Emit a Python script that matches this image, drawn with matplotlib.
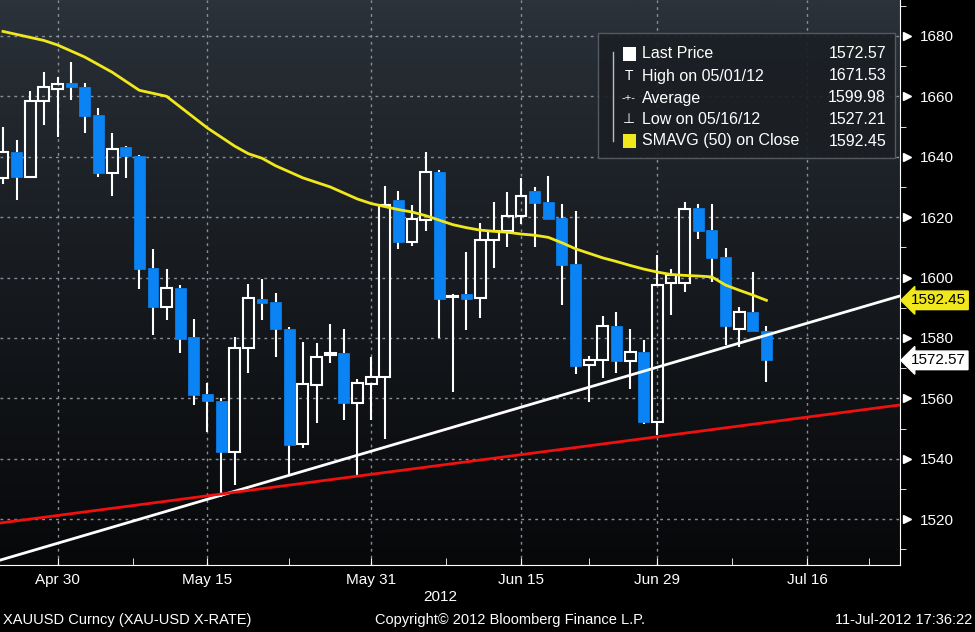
import numpy as np
import matplotlib
matplotlib.use("Agg")
import matplotlib.pyplot as plt
import matplotlib.transforms as mtransforms

# daily candles Apr 24 - Jul 11 2012 (trading days)
opens = [1633, 1641.6, 1633.4, 1658.6, 1662.4, 1664.3, 1663.2, 1653.8, 1634.7, 1643.1,
         1640.4, 1603.2, 1590.4, 1596.6, 1580.4, 1561.4, 1559.2, 1542.3, 1576.7, 1592.9,
         1591.9, 1583, 1544.8, 1564.4, 1574.4, 1575, 1558.5, 1564.8, 1567, 1625.7,
         1611.9, 1619, 1634.9, 1593.4, 1594.6, 1593.1, 1612.4, 1615.5, 1620.4, 1628.7,
         1625.1, 1619.8, 1604.5, 1571, 1572.7, 1584, 1572.5, 1575.4, 1552.3, 1598.1,
         1598.1, 1622.9, 1615.7, 1606.7, 1582.9, 1588.7, 1582.3]
closes = [1641.6, 1633.3, 1658.6, 1663, 1664, 1663.2, 1653.5, 1634.7, 1642.6, 1640.3,
          1602.7, 1590.4, 1596.6, 1579.7, 1561, 1559.1, 1542.3, 1576.7, 1593.2, 1591.6,
          1583, 1544.6, 1564.6, 1573.7, 1575, 1558.5, 1565, 1567, 1624, 1611.9,
          1619.3, 1634.9, 1592.9, 1594, 1593, 1612.4, 1615.5, 1620.4, 1627.1, 1624.8,
          1619.4, 1604.2, 1570.8, 1572.7, 1584, 1572.4, 1575.4, 1552, 1597.5, 1600.8,
          1622.7, 1615.4, 1606.4, 1584.1, 1588.7, 1582.3, 1572.57]
highs = [1650, 1645.6, 1661.6, 1668.2, 1666.5, 1671.53, 1664.5, 1656, 1648, 1643.6,
         1640.5, 1609.5, 1602.8, 1597.5, 1586.3, 1565, 1560, 1580.3, 1597.9, 1599.5,
         1594.9, 1583.5, 1578.7, 1578.3, 1584.6, 1583, 1566.4, 1573.7, 1630.4, 1628.7,
         1624, 1641.4, 1635.5, 1594.5, 1608.6, 1618, 1625, 1628.2, 1633, 1630,
         1633.7, 1624.3, 1622, 1574, 1587.4, 1588.7, 1583, 1579.3, 1607.5, 1602.8,
         1625.1, 1624.3, 1624.3, 1609.7, 1590.3, 1601.7, 1584]
lows = [1631, 1625.7, 1633, 1650.5, 1646.6, 1658.8, 1647.9, 1633.4, 1627, 1633,
        1596.2, 1581, 1586, 1575, 1557.8, 1549, 1527.21, 1531.3, 1568.4, 1586,
        1573.7, 1534.6, 1543.6, 1551.8, 1571.7, 1552.8, 1534, 1552.8, 1546.5, 1609.5,
        1610.5, 1615.5, 1580, 1562, 1582.6, 1586.7, 1603.3, 1610, 1617.6, 1610,
        1619.4, 1591, 1568, 1558.9, 1566.7, 1568.4, 1563, 1551.5, 1547.8, 1587.6,
        1595.3, 1612.7, 1598.4, 1577.6, 1577, 1582.3, 1565.3]
sma50 = [1681.5, 1680.5, 1679.5, 1678.5, 1677, 1675, 1673, 1670.5, 1668, 1665,
         1662, 1661, 1660, 1656.5, 1653, 1649.5, 1646.5, 1643.5, 1641, 1639.5,
         1637, 1635, 1633, 1631.5, 1630, 1628, 1626, 1624.5, 1623.5, 1622.5,
         1621.7, 1620.5, 1619, 1617.5, 1616.5, 1615.7, 1615.3, 1615, 1614.4, 1614,
         1613.3, 1611.5, 1609.5, 1608, 1606.5, 1605.3, 1604, 1602.8, 1601.8, 1601,
         1600.7, 1600.5, 1600.2, 1597.5, 1595.8, 1594.2, 1592.45]

# trend lines (index, price) endpoints
white_x = [-0.22, 65.8]
white_y = [1506.4, 1593.9]
red_x = [-0.22, 65.8]
red_y = [1518.7, 1557.8]

tick_pos = [4, 15, 27, 38, 48, 59]
tick_labels = ["Apr 30", "May 15", "May 31", "Jun 15", "Jun 29", "Jul 16"]
y_ticks = [1520, 1540, 1560, 1580, 1600, 1620, 1640, 1660, 1680]

legend_rows = ["Last Price", "High on 05/01/12", "Average", "Low on 05/16/12", "SMAVG (50) on Close"]
legend_vals = ["1572.57", "1671.53", "1599.98", "1527.21", "1592.45"]

plt.rcParams['font.family'] = ['Liberation Sans', 'DejaVu Sans']
fig = plt.figure(figsize=(9.75, 6.32), dpi=100, facecolor="black")
ax = fig.add_axes([0, 67 / 632, 900 / 975, 565 / 632])
xmin, xmax = -0.22, 65.8
ymin, ymax = 1504.8, 1691.9
ax.set_xlim(xmin, xmax)
ax.set_ylim(ymin, ymax)

# gradient background
grad = np.linspace(0, 1, 256).reshape(-1, 1)
top = np.array([0x2c, 0x33, 0x3b]) / 255
bot = np.array([0x07, 0x08, 0x0a]) / 255
img = top + (bot - top) * grad[:, :, None] ** 0.8
ax.imshow(img, extent=[xmin, xmax, ymin, ymax], aspect="auto", zorder=0)

for y in y_ticks:
    ax.axhline(y, color="#8a8f96", lw=1, ls=(0, (2, 3)), zorder=1)
for x in tick_pos:
    ax.axvline(x, color="#8a8f96", lw=1, ls=(0, (2, 3)), zorder=1)

blue = "#0a84f5"
w = 0.8
for i in range(len(opens)):
    o, c, h, l = opens[i], closes[i], highs[i], lows[i]
    top_b, bot_b = max(o, c), min(o, c)
    if bot_b == top_b:
        top_b += 0.3
    ax.vlines(i, top_b, h, color="white", lw=1.5, zorder=3)
    ax.vlines(i, l, bot_b, color="white", lw=1.5, zorder=3)
    if c >= o:
        ax.bar(i, top_b - bot_b, w, bottom=bot_b, facecolor="none", edgecolor="white", lw=1.5, zorder=4)
    else:
        ax.bar(i, top_b - bot_b, w, bottom=bot_b, facecolor=blue, edgecolor=blue, lw=0.5, zorder=4)

ax.plot(range(len(sma50)), sma50, color="#f0e81c", lw=2, zorder=5)
ax.plot(white_x, white_y, color="white", lw=2, zorder=6)
ax.plot(red_x, red_y, color="#f01010", lw=2, zorder=6)

# axes styling
for s in ["top", "left", "bottom"]:
    ax.spines[s].set_visible(False)
ax.spines["right"].set_color("white")
ax.spines["bottom"].set_visible(True)
ax.spines["bottom"].set_color("white")
ax.yaxis.tick_right()
ax.set_yticks(y_ticks)
ax.set_yticklabels([str(v) for v in y_ticks], color="white", fontsize=11)
ax.set_yticks(np.arange(1510, 1691, 20), minor=True)
ax.tick_params(axis="y", which="major", length=0, pad=14)
ax.tick_params(axis="y", which="minor", length=4, color="white", direction="out")
ax.set_xticks(tick_pos)
ax.set_xticklabels(tick_labels, color="white", fontsize=11)
ax.set_xticks([9.5, 21, 32.5, 43, 53.5, 63.5], minor=True)
ax.tick_params(axis="x", which="major", length=5, color="white", direction="in", pad=6)
ax.tick_params(axis="x", which="minor", length=5, color="white", direction="in")

trans = mtransforms.blended_transform_factory(ax.transAxes, ax.transData)
ax.plot([1.008] * len(y_ticks), y_ticks, ls="none", marker=">", color="white", ms=6,
        transform=trans, clip_on=False, zorder=7)

# price tags
ax.text(1.012, sma50[-1], "1592.45", transform=trans, fontsize=11, color="black", va="center",
        bbox=dict(boxstyle="larrow,pad=0.15", fc="#f0e81c", ec="#f0e81c"), clip_on=False, zorder=8)
ax.text(1.012, closes[-1], "1572.57", transform=trans, fontsize=11, color="black", va="center",
        bbox=dict(boxstyle="larrow,pad=0.15", fc="white", ec="white"), clip_on=False, zorder=8)

# legend box
lx0, ly0, lx1, ly1 = 598 / 900, 1 - 158 / 565, 895 / 900, 1 - 33 / 565
ax.add_patch(plt.Rectangle((lx0, ly0), lx1 - lx0, ly1 - ly0, transform=ax.transAxes,
                           fc="#1b1f24", ec="#5a5f66", lw=1, alpha=0.92, zorder=9))
row_px = [54, 76, 98, 119, 141]
for k, (name, val) in enumerate(zip(legend_rows, legend_vals)):
    yy = 1 - row_px[k] / 565
    ax.text(642 / 900, yy, name, transform=ax.transAxes, color="white", fontsize=11.5, va="center", zorder=10)
    ax.text(886 / 900, yy, val, transform=ax.transAxes, color="white", fontsize=11.5, va="center", ha="right", zorder=10)
# legend markers
ax.plot([613 / 900, 613 / 900], [1 - 52 / 565, 1 - 141 / 565], color="#bbbbbb", lw=1, transform=ax.transAxes, zorder=10)
ax.add_patch(plt.Rectangle((623 / 900, 1 - 61 / 565), 13 / 900, 14 / 565, transform=ax.transAxes, fc="white", zorder=10))
ax.add_patch(plt.Rectangle((623 / 900, 1 - 148 / 565), 13 / 900, 14 / 565, transform=ax.transAxes, fc="#f0e81c", zorder=10))
ax.text(629 / 900, 1 - 76 / 565, "T", transform=ax.transAxes, color="white", fontsize=10, ha="center", va="center", zorder=10)
ax.text(629 / 900, 1 - 98 / 565, "-+-", transform=ax.transAxes, color="white", fontsize=8, ha="center", va="center", zorder=10)
ax.text(629 / 900, 1 - 119 / 565, "\u22a5", transform=ax.transAxes, color="white", fontsize=10, ha="center", va="center", zorder=10, family="DejaVu Sans")

# footer
fig.text(440 / 975, 1 - 597 / 632, "2012", color="white", fontsize=11, ha="center", va="center")
fig.text(3 / 975, 1 - 620 / 632, "XAUUSD Curncy (XAU-USD X-RATE)", color="white", fontsize=10.5, va="center")
fig.text(510 / 975, 1 - 620 / 632, "Copyright\u00a9 2012 Bloomberg Finance L.P.", color="white", fontsize=10.5, ha="center", va="center")
fig.text(972 / 975, 1 - 620 / 632, "11-Jul-2012 17:36:22", color="white", fontsize=10.5, ha="right", va="center")

fig.savefig("out.png", dpi=100, facecolor="black")
